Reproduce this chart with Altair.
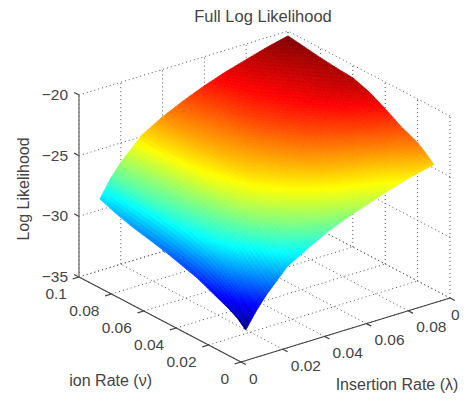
import altair as alt
import pandas as pd

# Rates on the surface grid, and the log likelihood read at every grid node
lambda_rates = [0.01, 0.015, 0.02, 0.03, 0.04, 0.05, 0.06, 0.07, 0.08, 0.09, 0.10]
nu_rates = [0.01, 0.015, 0.02, 0.03, 0.04, 0.05, 0.06, 0.07, 0.08, 0.09, 0.10]
log_likelihood = [
    [-33.6, -32.3, -31.2, -29.4, -28.4, -27.5, -26.8, -26.2, -25.6, -25.1, -24.7],
    [-33.0, -31.9, -30.6, -28.75, -27.6, -26.75, -26.1, -25.6, -25.15, -24.6, -24.1],
    [-32.6, -31.1, -30.0, -28.1, -26.9, -26.1, -25.5, -25.1, -24.7, -24.15, -23.6],
    [-32.0, -29.9, -28.65, -27.0, -25.9, -25.2, -24.6, -24.2, -23.75, -23.3, -23.0],
    [-31.4, -29.1, -28.0, -26.3, -25.2, -24.6, -23.95, -23.45, -23.0, -22.6, -22.2],
    [-31.0, -28.6, -27.6, -25.85, -24.8, -24.1, -23.5, -22.9, -22.45, -21.95, -21.5],
    [-30.6, -28.2, -27.3, -25.5, -24.5, -23.8, -23.1, -22.55, -22.05, -21.55, -21.05],
    [-30.3, -27.9, -27.1, -25.3, -24.3, -23.6, -22.85, -22.3, -21.85, -21.35, -20.95],
    [-30.0, -27.7, -26.95, -25.15, -24.15, -23.45, -22.7, -22.1, -21.65, -21.2, -20.8],
    [-29.6, -27.6, -26.8, -25.0, -24.0, -23.25, -22.55, -21.95, -21.45, -21.0, -20.6],
    [-29.1, -27.7, -26.6, -24.9, -23.9, -23.1, -22.4, -21.8, -21.3, -20.8, -20.4],
]
rate_ticks = [0, 0.02, 0.04, 0.06, 0.08, 0.1]
lambda_labels = ["0", "0.02", "0.04", "0.06", "0.08", "0"]
nu_labels = ["0", "0.02", "0.04", "0.06", "0.08", "0.1"]
z_ticks = [-35, -30, -25, -20]
z_labels = ["\u221235", "\u221230", "\u221225", "\u221220"]
title = "Full Log Likelihood"
z_title = "Log Likelihood"
lambda_title = "Insertion Rate (\u03bb)"
nu_title = "ion Rate (\u03bd)"

# The 3-D view: an orthographic projection onto page pixels
ORIGIN = (241.0, 362.0)
LAMBDA_DIR = (2090.0, -640.0)
NU_DIR = (-1620.0, -850.0)
Z_PX = 12.13
W, H = 452, 385
SUB = 8


def proj(lam, nu, z=-35.0):
    return (
        ORIGIN[0] + LAMBDA_DIR[0] * lam + NU_DIR[0] * nu,
        ORIGIN[1] + LAMBDA_DIR[1] * lam + NU_DIR[1] * nu - Z_PX * (z + 35.0),
    )


# Surface cells: every quad of the table, finely split for interpolated shading
def bilinear(i, j, u, v):
    return (
        log_likelihood[i][j] * (1 - u) * (1 - v)
        + log_likelihood[i][j + 1] * u * (1 - v)
        + log_likelihood[i + 1][j] * (1 - u) * v
        + log_likelihood[i + 1][j + 1] * u * v
    )


def node(i, j, a, b):
    u, v = a / SUB, b / SUB
    lam = lambda_rates[j] + (lambda_rates[j + 1] - lambda_rates[j]) * u
    nu = nu_rates[i] + (nu_rates[i + 1] - nu_rates[i]) * v
    return [round(c, 2) for c in proj(lam, nu, bilinear(i, j, u, v))]


features = []
for i in range(len(nu_rates) - 1):
    for j in range(len(lambda_rates) - 1):
        for a in range(SUB):
            for b in range(SUB):
                ring = [node(i, j, a, b), node(i, j, a + 1, b), node(i, j, a + 1, b + 1),
                        node(i, j, a, b + 1), node(i, j, a, b)]
                features.append({
                    "type": "Feature",
                    "geometry": {"type": "Polygon", "coordinates": [ring]},
                    "properties": {"z": round(bilinear(i, j, (a + .5) / SUB, (b + .5) / SUB), 3)},
                })

# MATLAB jet, stretched over the surface's own range
zmin, zmax = -33.6, -20.4
jet_pos = [0, .125, .375, .625, .875, 1]
jet_col = ["#000080", "#0000ff", "#00ffff", "#ffff00", "#ff0000", "#800000"]
jet = alt.Scale(domain=[zmin + p * (zmax - zmin) for p in jet_pos], range=jet_col, interpolate="rgb")

surface = alt.Chart(alt.Data(values=features)).mark_geoshape(strokeWidth=0.7).encode(
    color=alt.Color("properties.z:Q", scale=jet, legend=None),
    stroke=alt.Stroke("properties.z:Q", scale=jet, legend=None),
).project(type="identity", scale=1, translate=[-8, -8])

xs = alt.X("x:Q", scale=alt.Scale(domain=[8, 8 + W], range=[0, W]), axis=None)
# y scale runs top-down in page pixels
ys = alt.Y("y:Q", scale=alt.Scale(domain=[8, 8 + H], range=[0, H]), axis=None)


def lines_frame(segments):
    rows = []
    for k, (p, q) in enumerate(segments):
        rows.append({"x": p[0], "y": p[1], "g": k, "o": 0})
        rows.append({"x": q[0], "y": q[1], "g": k, "o": 1})
    return pd.DataFrame(rows)


grid = []
for t in rate_ticks:
    grid.append((proj(t, 0), proj(t, .1)))
    grid.append((proj(0, t), proj(.1, t)))
    grid.append((proj(t, .1, -35), proj(t, .1, -20)))
    grid.append((proj(.1, t, -35), proj(.1, t, -20)))
for z in z_ticks:
    grid.append((proj(0, .1, z), proj(.1, .1, z)))
    grid.append((proj(.1, 0, z), proj(.1, .1, z)))

axes_seg = [
    (proj(0, .1), proj(0, 0)),
    (proj(0, 0), proj(.1, 0)),
]
for t in rate_ticks:
    axes_seg.append((proj(t, 0), proj(t, -.003)))
    axes_seg.append((proj(0, t), proj(-.003, t)))
for z in z_ticks:
    axes_seg.append((proj(0, .1, z), proj(0, .103, z)))

grid_layer = alt.Chart(lines_frame(grid)).mark_line(
    color="#555555", strokeWidth=1, strokeDash=[1, 3]
).encode(x=xs, y=ys, detail="g:N", order="o:Q")
axes_layer = alt.Chart(lines_frame(axes_seg)).mark_line(
    color="#444444", strokeWidth=1.2
).encode(x=xs, y=ys, detail="g:N", order="o:Q")
z_axis_layer = alt.Chart(lines_frame([(proj(0, .1, -35), proj(0, .1, -20))])).mark_line(
    color="#777777", strokeWidth=1.4
).encode(x=xs, y=ys, detail="g:N", order="o:Q")

FS = 15.5
TXT = "#444444"
FONT = "Liberation Sans"


def labels(rows, **kw):
    return alt.Chart(pd.DataFrame(rows)).mark_text(
        font=FONT, fontSize=kw.pop("fontSize", FS), color=TXT, baseline="middle", **kw
    ).encode(x=xs, y=ys, text="t:N")


# the last lambda label sits against the drawing's right edge so that it stays whole
lam_rows = [{"x": min(proj(t, 0)[0] + 8, 451), "y": proj(t, 0)[1] + 16.5, "t": s}
            for t, s in zip(rate_ticks, lambda_labels)]
nu_rows = [{"x": proj(0, t)[0] - 12, "y": proj(0, t)[1] + 16.5, "t": s} for t, s in zip(rate_ticks, nu_labels)]
z_rows = [{"x": proj(0, .1, z)[0] - 11, "y": proj(0, .1, z)[1], "t": s} for z, s in zip(z_ticks, z_labels)]

layers = [
    grid_layer,
    surface,
    axes_layer,
    z_axis_layer,
    labels(lam_rows, align="left"),
    labels(nu_rows, align="right"),
    labels(z_rows, align="right"),
    labels([{"x": 263, "y": 17, "t": title}], align="center", fontSize=16.5),
    labels([{"x": 24, "y": 189, "t": z_title}], align="center", angle=270, fontSize=16),
    labels([{"x": 397, "y": 385, "t": lambda_title}], align="center", fontSize=16),
    labels([{"x": 152, "y": 381, "t": nu_title}], align="right", fontSize=16),
]

chart = alt.layer(*layers).properties(
    width=W, height=H, padding=0, autosize=alt.AutoSizeParams(type="none")
).configure_view(stroke=None)

chart.save("out.html", embed_options={"renderer": "svg", "actions": False})
